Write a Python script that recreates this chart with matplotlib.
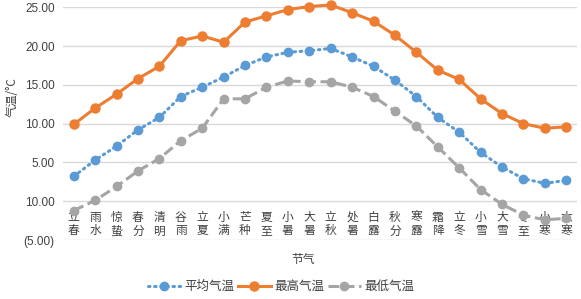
import matplotlib
matplotlib.use("Agg")
import matplotlib.pyplot as plt

plt.rcParams['font.family'] = ['Noto Sans CJK SC', 'DejaVu Sans']

# 二十四节气
terms = ["立春", "雨水", "惊蛰", "春分", "清明", "谷雨", "立夏", "小满",
         "芒种", "夏至", "小暑", "大暑", "立秋", "处暑", "白露", "秋分",
         "寒露", "霜降", "立冬", "小雪", "大雪", "冬至", "小寒", "大寒"]

avg_temp = [3.2, 5.3, 7.1, 9.2, 10.8, 13.5, 14.7, 16.0,
            17.5, 18.6, 19.2, 19.4, 19.7, 18.6, 17.4, 15.6,
            13.5, 10.8, 8.9, 6.3, 4.4, 2.9, 2.3, 2.7]
max_temp = [9.9, 12.0, 13.8, 15.8, 17.4, 20.7, 21.3, 20.5,
            23.1, 23.9, 24.7, 25.1, 25.3, 24.3, 23.2, 21.4,
            19.2, 16.9, 15.7, 13.2, 11.3, 10.0, 9.4, 9.6]
min_temp = [-1.2, 0.1, 1.9, 3.9, 5.5, 7.8, 9.4, 13.2,
            13.2, 14.7, 15.5, 15.4, 15.4, 14.7, 13.5, 11.6,
            9.7, 7.0, 4.3, 1.5, -0.4, -1.8, -2.4, -2.2]

yticks = [-5, 0, 5, 10, 15, 20, 25]
ytick_labels = ["(5.00)", "10.00", "5.00", "10.00", "15.00", "20.00", "25.00"]

blue = "#5B9BD5"
orange = "#ED7D31"
gray = "#A5A5A5"

fig = plt.figure(figsize=(5.81, 2.99), dpi=100)
ax = fig.add_axes([0.1084, 0.1973, 0.8847, 0.7783])

x = list(range(len(terms)))
ax.plot(x, avg_temp, color=blue, lw=2.2, linestyle=(0, (0.5, 1.5)),
        dash_capstyle='round', marker='o', ms=6, label="平均气温",
        clip_on=False, zorder=3)
ax.plot(x, max_temp, color=orange, lw=2.2, marker='o', ms=6.5,
        label="最高气温", clip_on=False, zorder=3)
ax.plot(x, min_temp, color=gray, lw=2.2, linestyle=(0, (3.5, 1.5)),
        marker='o', ms=6, label="最低气温", clip_on=False, zorder=3)

ax.set_xlim(-0.5, len(terms) - 0.5)
ax.set_ylim(-5, 25)
ax.set_yticks(yticks)
ax.set_yticklabels(ytick_labels, fontsize=8.5,
                   family=['Liberation Sans', 'DejaVu Sans'], color="#404040")
ax.grid(axis='y', color="#D9D9D9", lw=1)
ax.set_axisbelow(True)

for s in ['top', 'right', 'left']:
    ax.spines[s].set_visible(False)
ax.spines['bottom'].set_position(('data', 0))
ax.spines['bottom'].set_visible(False)
ax.set_xticks(x)
ax.set_xticklabels(["\n".join(t) for t in terms], fontsize=8.5,
                   linespacing=1.05, color="#404040", va='top')
ax.tick_params(axis='x', length=0, pad=7)
ax.tick_params(axis='y', length=0, pad=6)

fig.text(0.021, 0.675, "气温/°C", rotation=90, fontsize=8.5,
         ha='center', va='center', color="#404040")
fig.text(0.521, 0.133, "节气", fontsize=8.5, ha='center', va='center',
         color="#404040")

fig.legend(loc='center', bbox_to_anchor=(0.484, 0.041), ncol=3,
           frameon=False, fontsize=9, handlelength=2.6, handletextpad=0.3,
           columnspacing=0.3, labelcolor="#404040")

fig.savefig("out.png", dpi=100)
